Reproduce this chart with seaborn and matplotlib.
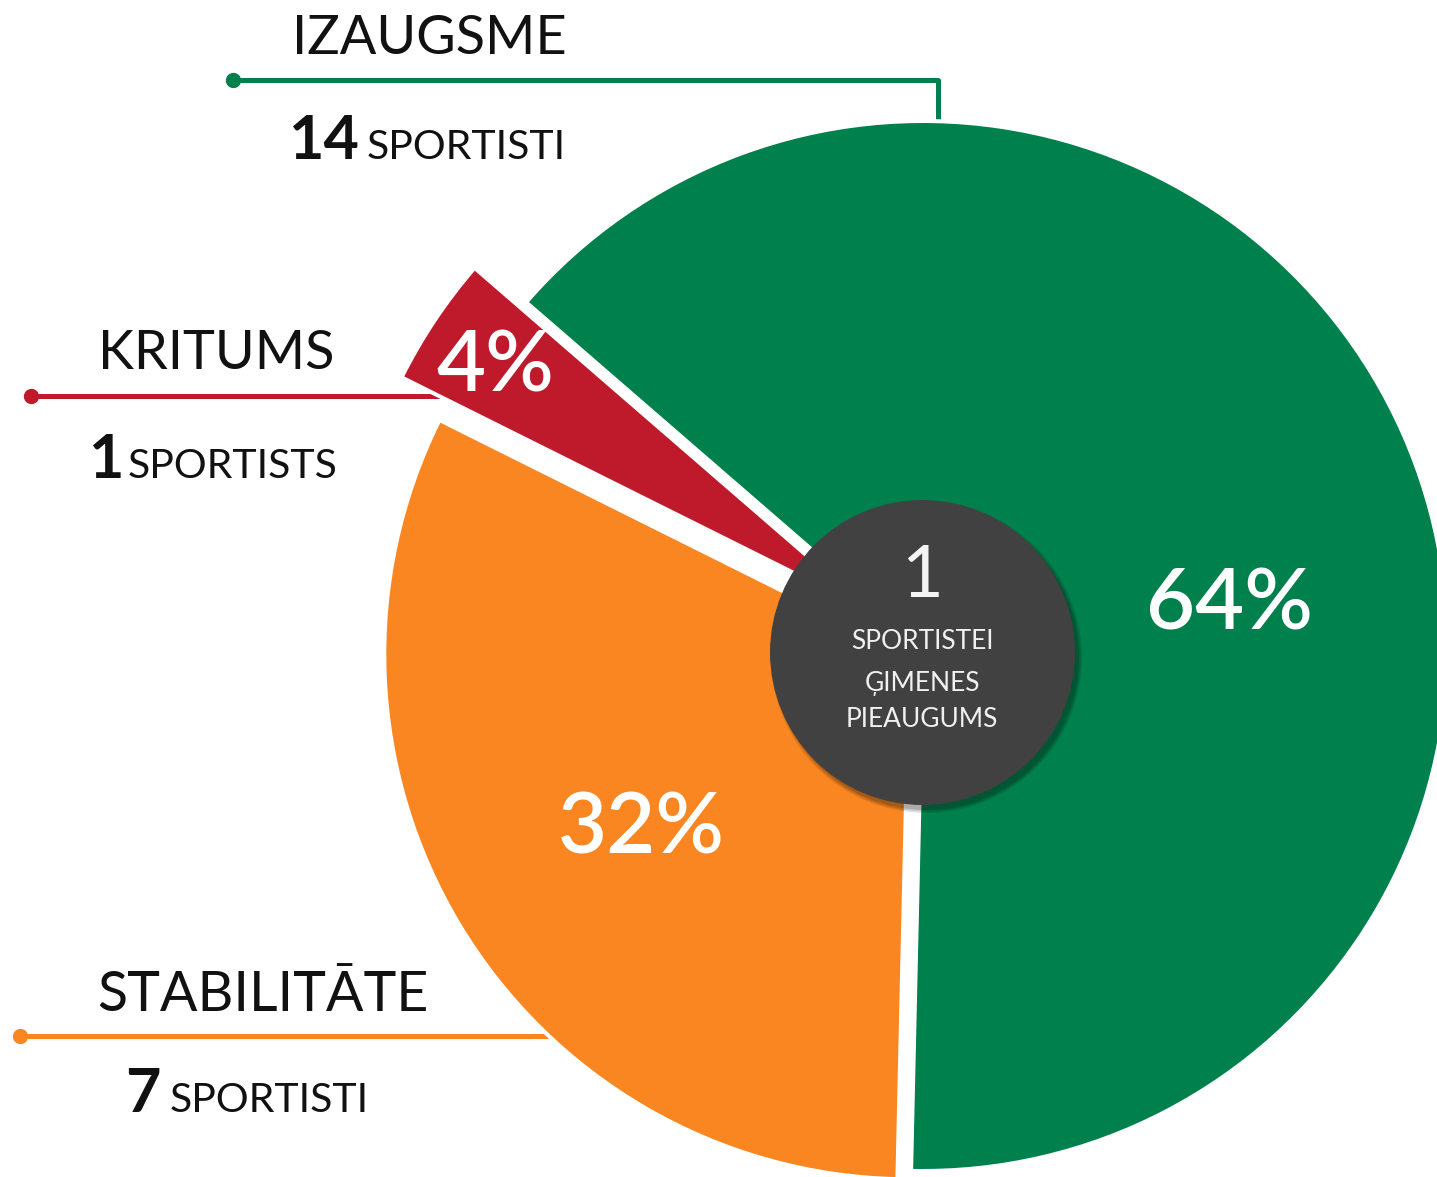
import matplotlib
matplotlib.use("Agg")
import matplotlib.pyplot as plt
from matplotlib.patches import Circle
import seaborn as sns

categories = ["IZAUGSME", "KRITUMS", "STABILITĀTE"]
shares = [64, 4, 32]
athletes = [14, 1, 7]
unit_words = ["SPORTISTI", "SPORTISTS", "SPORTISTI"]
palette = ["#00804d", "#be1a2c", "#f98620"]
centre_value = 1
centre_lines = ["SPORTISTEI", "ĢIMENES", "PIEAUGUMS"]

sns.set_theme(style="white")
plt.rcParams["font.family"] = ["Lato", "DejaVu Sans"]

W, H = 1437, 1177
fig = plt.figure(figsize=(W / 100, H / 100), dpi=100)
ax = fig.add_axes([0, 0, 1, 1])


def Y(y):
    # picture rows run downwards, data y upwards
    return H - y


cx, cy = 923, Y(646)
wedges, _ = ax.pie(
    shares,
    colors=palette,
    startangle=268.7,
    counterclock=True,
    explode=[0, 62, 16],
    radius=525,
    center=(cx, cy),
    wedgeprops=dict(edgecolor="white", linewidth=2.9),
)
ax.set_xlim(0, W)
ax.set_ylim(0, H)
ax.set_aspect("equal")
ax.axis("off")

"""
Leader lines and side labels
"""
header_pos = [(292, 54), (98, 369), (97, 1011)]
header_size = [39, 39, 40]
leader_pts = [
    [(233, 80), (938, 80), (938, 135)],
    [(31, 396), (450, 396)],
    [(20, 1036), (600, 1036)],
]
number_pos = [(288, 159), (88, 478), (125, 1112)]
unit_x = [367, 128, 170]

for i, name in enumerate(categories):
    xs = [p[0] for p in leader_pts[i]]
    ys = [Y(p[1]) for p in leader_pts[i]]
    ax.plot(xs, ys, color=palette[i], lw=3.6, zorder=0.5, solid_capstyle="butt")
    ax.plot(xs[0], ys[0], "o", color=palette[i], ms=10, zorder=0.6)
    ax.text(header_pos[i][0], Y(header_pos[i][1]), name, fontsize=header_size[i],
            color="#111111", ha="left", va="baseline")
    ax.text(number_pos[i][0], Y(number_pos[i][1]), str(athletes[i]), fontsize=44,
            fontweight="bold", color="#111111", ha="left", va="baseline")
    ax.text(unit_x[i], Y(number_pos[i][1]), unit_words[i], fontsize=29.5,
            color="#111111", ha="left", va="baseline")

"""
Percent labels on the wedges
"""
pct_pos = [(1230, 629), (495, 391), (641, 853)]
for i, s in enumerate(shares):
    ax.text(pct_pos[i][0], Y(pct_pos[i][1]), f"{s}%", fontsize=61,
            fontweight="semibold", color="white", ha="center", va="baseline",
            zorder=5)

"""
Centre disc
"""
dx, dy, dr = 922.5, Y(652.5), 152.5
for k, a in enumerate([0.10, 0.12, 0.15]):
    ax.add_patch(Circle((dx + 4, dy - 5), dr + 3 - k * 1.5, color="black",
                        alpha=a, lw=0, zorder=2))
ax.add_patch(Circle((dx, dy), dr, color="#414141", lw=0, zorder=3))
ax.text(922, Y(597), str(centre_value), fontsize=52, fontweight="normal",
        color="#f4f4f4", ha="center", va="baseline", zorder=4)
for line, base in zip(centre_lines, [649, 691, 727]):
    ax.text(922, Y(base), line, fontsize=19, fontweight="normal",
            color="#f0f0f0", ha="center", va="baseline", zorder=4)

fig.savefig("out.png", dpi=100)
